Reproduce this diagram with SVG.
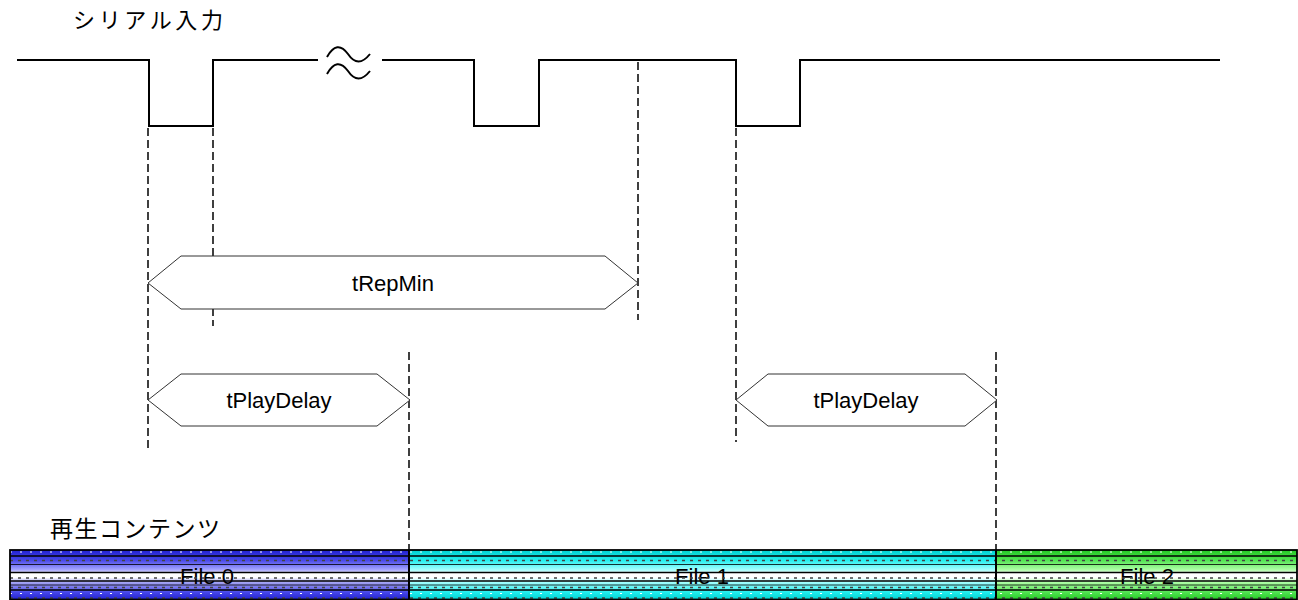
<svg xmlns="http://www.w3.org/2000/svg" width="1298" height="600" viewBox="0 0 1298 600">
<style>
.lbl{font-family:"Liberation Sans","Noto Sans CJK JP",sans-serif;fill:#000}
.sig{fill:none;stroke:#000;stroke-width:2}
.dash{fill:none;stroke:#000;stroke-width:1.5;stroke-dasharray:8,4}
.hex{fill:#fff;stroke:#333;stroke-width:1}
.ht{font-family:"Liberation Sans",Arial,sans-serif;font-size:22px;fill:#000;text-anchor:middle}
.ft{font-family:"Liberation Sans",Arial,sans-serif;font-size:22px;fill:#000;text-anchor:middle}
.blk{stroke:#000;stroke-width:1.6}
.wd{stroke:#fff;stroke-width:1.2;stroke-dasharray:2,8}
.gd{stroke:#444;stroke-width:1.4;stroke-dasharray:3,5}
</style>
<defs>
<linearGradient id="gBlue" x1="0" y1="0" x2="0" y2="1">
<stop offset="0" stop-color="#2020d0"/><stop offset="0.2" stop-color="#4646e8"/><stop offset="0.4" stop-color="#a8a8ff"/><stop offset="0.47" stop-color="#ffffff"/><stop offset="0.55" stop-color="#ffffff"/><stop offset="0.64" stop-color="#a8a8f4"/><stop offset="0.85" stop-color="#4646e8"/><stop offset="1" stop-color="#2020d0"/>
</linearGradient>
<linearGradient id="gCyan" x1="0" y1="0" x2="0" y2="1">
<stop offset="0" stop-color="#00d0d0"/><stop offset="0.2" stop-color="#20eeee"/><stop offset="0.4" stop-color="#a8ffff"/><stop offset="0.47" stop-color="#ffffff"/><stop offset="0.55" stop-color="#ffffff"/><stop offset="0.64" stop-color="#a8ffff"/><stop offset="0.85" stop-color="#20eeee"/><stop offset="1" stop-color="#00d0d0"/>
</linearGradient>
<linearGradient id="gGreen" x1="0" y1="0" x2="0" y2="1">
<stop offset="0" stop-color="#22c822"/><stop offset="0.2" stop-color="#50e450"/><stop offset="0.4" stop-color="#b0ffa8"/><stop offset="0.47" stop-color="#ffffff"/><stop offset="0.55" stop-color="#ffffff"/><stop offset="0.64" stop-color="#b0ffa8"/><stop offset="0.85" stop-color="#50e450"/><stop offset="1" stop-color="#22c822"/>
</linearGradient>
</defs>

<g id="label-serial"><text class="lbl" x="73" y="28" font-size="22" textLength="150" lengthAdjust="spacing">シリアル入力</text></g>
<g id="label-content"><text class="lbl" x="50" y="537" font-size="23" textLength="170" lengthAdjust="spacing">再生コンテンツ</text></g>

<g id="signal">
<path class="sig" d="M17,60 H149 V126 H213 V60 H318"/>
<path class="sig" stroke-width="1.5" d="M327,57 Q337,39 348,54 Q358,69 370,54"/>
<path class="sig" stroke-width="1.5" d="M327,74 Q337,56 348,71 Q358,86 370,71"/>
<path class="sig" d="M382,60 H474 V126 H539 V60 H736 V126 H800 V60 H1220"/>
</g>

<g id="connectors">
<line class="dash" x1="148" y1="128" x2="148" y2="452"/>
<line class="dash" x1="213" y1="128" x2="213" y2="326"/>
<line class="dash" x1="638" y1="62" x2="638" y2="320"/>
<line class="dash" x1="409" y1="352" x2="409" y2="550"/>
<line class="dash" x1="736" y1="128" x2="736" y2="442"/>
<line class="dash" x1="996" y1="352" x2="996" y2="550"/>
</g>

<g id="tRepMin">
<polygon class="hex" points="148,283 181,256 605,256 638,283 605,309 181,309"/>
<text class="ht" x="393" y="291">tRepMin</text>
</g>
<g id="tPlayDelay1">
<polygon class="hex" points="148,400 181,374 377,374 410,400 377,426 181,426"/>
<text class="ht" x="279" y="408">tPlayDelay</text>
</g>
<g id="tPlayDelay2">
<polygon class="hex" points="736,400 768,374 965,374 997,400 965,426 768,426"/>
<text class="ht" x="866" y="408">tPlayDelay</text>
</g>

<g id="file0"><rect x="10" y="550" width="399" height="50" fill="url(#gBlue)"/></g>
<g id="file1"><rect x="409" y="550" width="587" height="50" fill="url(#gCyan)"/></g>
<g id="file2"><rect x="996" y="550" width="301" height="50" fill="url(#gGreen)"/></g>

<g id="file-labels">
<text class="ft" x="207" y="584">File 0</text>
<text class="ft" x="702" y="584">File 1</text>
<text class="ft" x="1147" y="584">File 2</text>
</g>

<g id="stripes">
<line class="wd" x1="10" y1="552" x2="1297" y2="552"/>
<line class="blk" x1="10" y1="556" x2="1297" y2="556"/>
<line class="gd" x1="10" y1="560.5" x2="1297" y2="560.5"/>
<line stroke="#000" stroke-width="0.8" x1="10" y1="564.5" x2="1297" y2="564.5"/>
<line class="blk" stroke-width="2" x1="10" y1="572.5" x2="1297" y2="572.5"/>
<line class="gd" x1="10" y1="578" x2="1297" y2="578"/>
<line class="blk" x1="10" y1="581" x2="1297" y2="581"/>
<line stroke="#000" stroke-width="0.8" x1="10" y1="585" x2="1297" y2="585"/>
<line class="gd" x1="10" y1="587.5" x2="1297" y2="587.5"/>
<line class="blk" x1="10" y1="590" x2="1297" y2="590"/>
<line class="wd" x1="10" y1="593.5" x2="1297" y2="593.5"/>
<line class="gd" x1="10" y1="598" x2="1297" y2="598"/>
</g>
<g id="bar-borders">
<rect x="10" y="550" width="1287" height="49.5" fill="none" stroke="#000" stroke-width="1.8"/>
<line x1="409" y1="550" x2="409" y2="600" stroke="#000" stroke-width="2"/>
<line x1="996" y1="550" x2="996" y2="600" stroke="#000" stroke-width="2"/>
</g>
</svg>
